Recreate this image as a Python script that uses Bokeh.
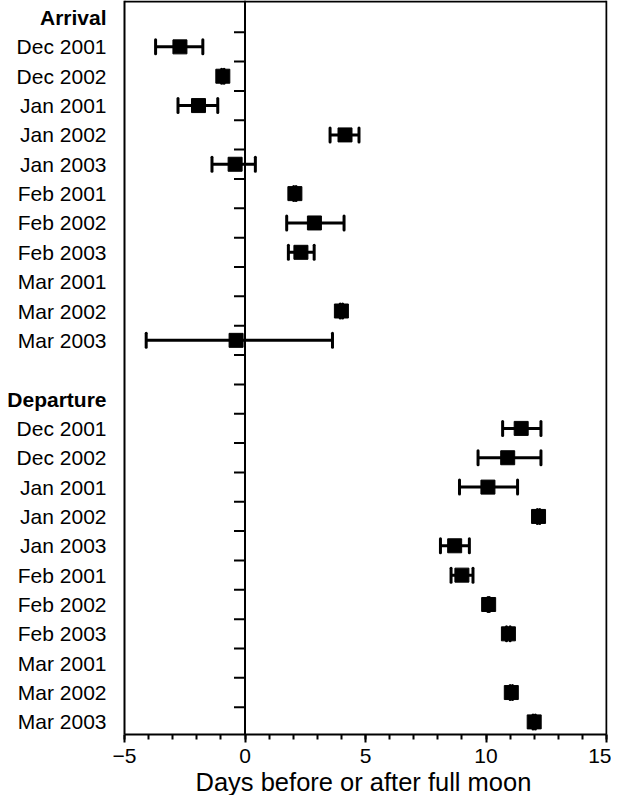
from bokeh.plotting import figure
from bokeh.models import Range1d, FixedTicker, Whisker, TeeHead, ColumnDataSource, Span, Title
from bokeh.core.properties import value
from bokeh.embed import file_html
from bokeh.resources import INLINE
import math

# ---- data ----
months = ["Dec 2001", "Dec 2002", "Jan 2001", "Jan 2002", "Jan 2003", "Feb 2001",
          "Feb 2002", "Feb 2003", "Mar 2001", "Mar 2002", "Mar 2003"]
arrival_mean = [-2.70, -0.92, -1.93, 4.15, -0.41, 2.07, 2.88, 2.32, None, 4.00, -0.37]
arrival_low = [-3.71, -0.97, -2.78, 3.53, -1.37, 2.02, 1.73, 1.80, None, 3.95, -4.10]
arrival_high = [-1.75, -0.87, -1.13, 4.73, 0.43, 2.12, 4.11, 2.87, None, 4.05, 3.63]
departure_mean = [11.46, 10.90, 10.08, 12.18, 8.70, 9.00, 10.11, 10.93, None, 11.05, 12.00]
departure_low = [10.69, 9.67, 8.90, 12.13, 8.11, 8.55, 10.08, 10.85, None, 11.00, 11.95]
departure_high = [12.28, 12.28, 11.31, 12.23, 9.31, 9.46, 10.14, 11.00, None, 11.10, 12.05]
group_titles = ["Arrival", "Departure"]
x_ticks = [-5, 0, 5, 10, 15]
x_minor = list(range(-5, 16))
x_title = "Days before or after full moon"

FONT = "Liberation Sans"

# ---- layout parameters (pixels / rows) ----
W, H = 611, 795
PX = 24.1                 # pixels per day
LEFT_PAD = 124            # label area left of x=-5
RIGHT_PAD = 1
ROW_TOP = 0.58            # rows above first row
ROW_BOTTOM = 24.43        # extent below
ROW_PX = 29.2
TITLE_LEFT = 195          # px from frame left

# row layout: Arrival header row 0, months 1..11, blank 12, Departure header 13, months 14..24
arr_rows = [1 + i for i in range(len(months))]
dep_rows = [14 + i for i in range(len(months))]
header_rows = [0, 13]

xs, ys, lo, hi = [], [], [], []
for rows, m, l, h in ((arr_rows, arrival_mean, arrival_low, arrival_high),
                      (dep_rows, departure_mean, departure_low, departure_high)):
    for r, mv, lv, hv in zip(rows, m, l, h):
        if mv is None:
            continue
        xs.append(mv); ys.append(-r); lo.append(lv); hi.append(hv)
src = ColumnDataSource(dict(x=xs, y=ys, lo=lo, hi=hi))

x0, x1 = x_ticks[0], x_ticks[-1]
p = figure(width=W, height=H, output_backend="svg", toolbar_location=None,
           x_range=Range1d(x0 - LEFT_PAD / PX, x1 + RIGHT_PAD / PX),
           y_range=Range1d(-ROW_BOTTOM, ROW_TOP),
           y_axis_location=None,
           min_border_left=0, min_border_right=4, min_border_top=0, min_border_bottom=0)
p.grid.visible = False
p.outline_line_color = None

# frame box (left, right, top); bottom is the x axis
p.add_layout(Span(location=x0, dimension="height", line_color="black", line_width=2))
p.add_layout(Span(location=x1, dimension="height", line_color="black", line_width=2))
y_top = ROW_TOP - 1.0 / ROW_PX
p.segment(x0=[x0], x1=[x1], y0=[y_top], y1=[y_top], line_color="black", line_width=2)

# zero line with small ticks between rows
p.add_layout(Span(location=0, dimension="height", line_color="black", line_width=2))
tick_y = [-(r + 0.5) for r in range(24)]
p.ray(x=[0] * len(tick_y), y=tick_y, length=11, length_units="screen", angle=math.pi,
      line_color="black", line_width=2)

# error bars and means
head = dict(size=14, line_width=3, line_color="black", line_cap="round")
p.add_layout(Whisker(source=src, base="y", lower="lo", upper="hi", dimension="width",
                     line_width=3, line_color="black",
                     upper_head=TeeHead(**head), lower_head=TeeHead(**head)))
p.scatter("x", "y", source=src, marker="square", size=14, color="black")

# row labels
all_rows = arr_rows + dep_rows
p.text(x=[x0] * len(all_rows), y=[-r for r in all_rows],
       text=[months[i % len(months)] for i in range(len(all_rows))],
       x_offset=-18, text_align="right", text_baseline="middle",
       text_font=value(FONT), text_font_size="21px", text_color="black")
p.text(x=[x0] * len(header_rows), y=[-r for r in header_rows], text=group_titles,
       x_offset=-18, text_align="right", text_baseline="middle",
       text_font=value(FONT), text_font_size="21px", text_font_style="bold",
       text_color="black")

# x axis
xax = p.xaxis[0]
xax.bounds = (x0, x1)
xax.ticker = FixedTicker(ticks=x_ticks, minor_ticks=x_minor)
xax.major_label_overrides = {-5: "\u22125"}
xax.axis_line_color = "black"
xax.axis_line_width = 2
xax.major_tick_line_width = 2
xax.minor_tick_line_width = 2
xax.major_tick_out = 8
xax.major_tick_in = 0
xax.minor_tick_out = 5
xax.minor_tick_in = 0
xax.major_label_standoff = 6
xax.major_label_text_font = FONT
xax.major_label_text_font_size = "21px"
xax.major_label_text_color = "black"

p.add_layout(Title(text=x_title, align="left", offset=TITLE_LEFT, standoff=0,
                   text_font=FONT, text_font_size="25.5px", text_font_style="normal",
                   text_color="black"), "below")

open("out.html", "w").write(file_html(p, INLINE))
